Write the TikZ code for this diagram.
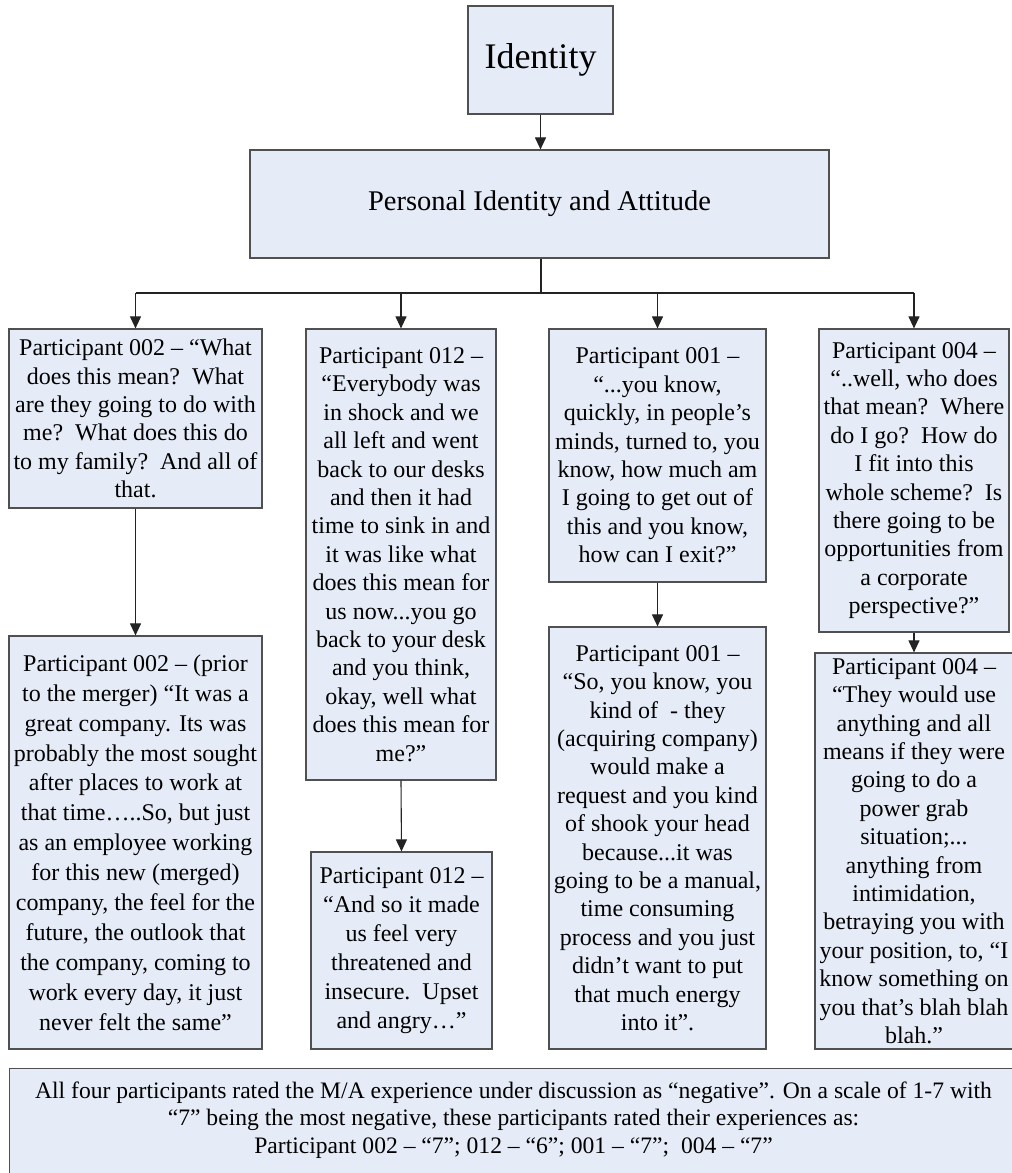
\documentclass[tikz,border=0pt]{standalone}
\usepackage{fontspec}
\setmainfont{Liberation Serif}
\usetikzlibrary{arrows.meta}

\definecolor{boxfill}{RGB}{230,236,247}
\definecolor{boxline}{RGB}{80,80,80}
\definecolor{wire}{RGB}{35,35,35}

\tikzset{
  box/.style={draw=boxline, fill=boxfill, line width=1.2pt, inner sep=0pt,
    align=center, font=\fontsize{24}{28.4}\selectfont},
  wireline/.style={draw=wire, line width=1.1pt},
  conn/.style={wireline, -{Triangle[length=12pt,width=11pt]}},
}

\begin{document}
\begin{tikzpicture}[x=1pt,y=-1pt]
\useasboundingbox (0,0) rectangle (1012,1173);

% header boxes
\node[box, minimum width=145pt, minimum height=108pt,
      font=\fontsize{36}{40}\selectfont] (id) at (540.5,60) {Identity};
\node[box, minimum width=579pt, minimum height=108pt,
      font=\fontsize{28.5}{32}\selectfont] (pia) at (539.5,204) {Personal Identity and Attitude};

% first row of quotes
\node[box, minimum width=253pt, minimum height=179pt] (q1) at (135.5,418.5)
  {Participant 002 – “What\\ does this mean?\ \ What\\ are they going to do with\\ me?\ \ What does this do\\ to my family?\ \ And all of\\ that.};
\node[box, minimum width=190pt, minimum height=451pt] (q2) at (401,554.5)
  {Participant 012 –\\ “Everybody was\\ in shock and we\\ all left and went\\ back to our desks\\ and then it had\\ time to sink in and\\ it was like what\\ does this mean for\\ us now...you go\\ back to your desk\\ and you think,\\ okay, well what\\ does this mean for\\ me?”};
\node[box, minimum width=217pt, minimum height=253pt] (q3) at (657.5,455.5)
  {Participant 001 –\\ “...you know,\\ quickly, in people’s\\ minds, turned to, you\\ know, how much am\\ I going to get out of\\ this and you know,\\ how can I exit?”};
\node[box, minimum width=190pt, minimum height=303pt] (q4) at (914,480.5)
  {Participant 004 –\\ “..well, who does\\ that mean?\ \ Where\\ do I go?\ \ How do\\ I fit into this\\ whole scheme?\ \ Is\\ there going to be\\ opportunities from\\ a corporate\\ perspective?”};

% second row of quotes
\node[box, minimum width=253pt, minimum height=413pt,
      font=\fontsize{24}{29.9}\selectfont] (r1) at (135.5,842.5)
  {Participant 002 – (prior\\ to the merger) “It was a\\ great company. Its was\\ probably the most sought\\ after places to work at\\ that time…..So, but just\\ as an employee working\\ for this new (merged)\\ company, the feel for the\\ future, the outlook that\\ the company, coming to\\ work every day, it just\\ never felt the same”};
\node[box, minimum width=181pt, minimum height=197pt,
      font=\fontsize{24}{29}\selectfont] (r2) at (401.5,950.5)
  {Participant 012 –\\ “And so it made\\ us feel very\\ threatened and\\ insecure.\ \ Upset\\ and angry…”};
\node[box, minimum width=217pt, minimum height=422pt] (r3) at (657.5,838)
  {Participant 001 –\\ “So, you know, you\\ kind of\ \ - they\\ (acquiring company)\\ would make a\\ request and you kind\\ of shook your head\\ because...it was\\ going to be a manual,\\ time consuming\\ process and you just\\ didn’t want to put\\ that much energy\\ into it”.};
\node[box, minimum width=198pt, minimum height=396pt] (r4) at (914,851)
  {Participant 004 –\\ “They would use\\ anything and all\\ means if they were\\ going to do a\\ power grab\\ situation;...\\ anything from\\ intimidation,\\ betraying you with\\ your position, to, “I\\ know something on\\ you that’s blah blah\\ blah.”};

% summary panel running past the lower and right edges
\node[box, minimum width=1011pt, minimum height=130pt, anchor=north west] (sum) at (9,1068) {};
\node[align=center, inner sep=0pt, font=\fontsize{23.6}{27.3}\selectfont] (sumtext) at (513.5,1120)
  {All four participants rated the M/A experience under discussion as “negative”. On a scale of 1-7 with\\ “7” being the most negative, these participants rated their experiences as:\\ Participant 002 – “7”; 012 – “6”; 001 – “7”;\ \ 004 – “7”};

% connectors
\coordinate (bus) at (541,293);
\draw[conn] (id.south) -- (id.south |- pia.north);
\draw[wireline] (pia.south -| bus) -- (bus);
\draw[wireline] (q1.north |- bus) -- (q4.north |- bus);
\draw[conn] (q1.north |- bus) -- (q1.north);
\draw[conn] (q2.north |- bus) -- (q2.north);
\draw[conn] (q3.north |- bus) -- (q3.north);
\draw[conn] (q4.north |- bus) -- (q4.north);
\draw[conn] (q1.south) -- (r1.north);
\draw[conn] (q2.south) -- (r2.north);
\draw[conn] (q3.south) -- (r3.north);
\draw[conn] (q4.south) -- (r4.north);
\end{tikzpicture}
\end{document}
